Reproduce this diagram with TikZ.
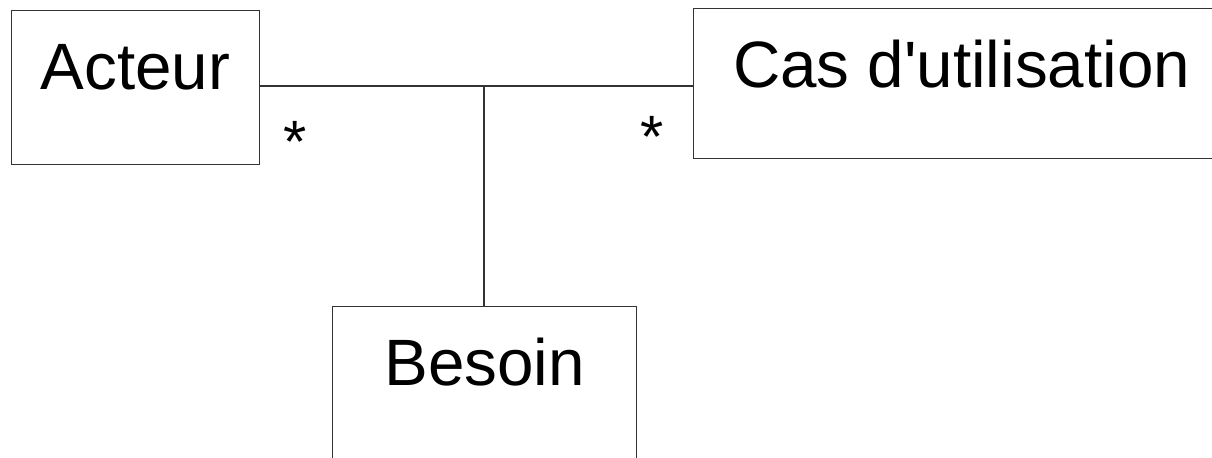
\documentclass[tikz,border=0pt]{standalone}
\usepackage{fontspec}
\setmainfont{Liberation Sans}
\usetikzlibrary{calc,positioning}
\tikzset{every node/.style={align=center},
  classe/.style={rectangle,draw=black!80,line width=0.6pt,inner xsep=0pt,inner ysep=0pt,
    text height=1.58cm,font=\fontsize{37.3}{44}\selectfont},
  mult/.style={font=\fontsize{34}{40}\selectfont,inner sep=0pt,anchor=base}}

\begin{document}
\begin{tikzpicture}[>=stealth]
\useasboundingbox (0,0) rectangle (24.24,-9.16);
\node[classe,anchor=north west,minimum width=4.96cm,text depth=1.5cm] (Act) at (0.22,-0.2) {Acteur};
\node[classe,anchor=north west,minimum width=10.72cm,text depth=1.42cm] (Cas) at (13.86,-0.16) {Cas d\textquotesingle utilisation};
\node[classe,anchor=north west,minimum width=6.08cm,text depth=1.62cm] (Bes) at (6.64,-6.12) {Besoin};

\coordinate (J) at (9.68,-1.72);
\draw[black!80,line width=0.6pt] (Act.east |- J) -- (J) -- (Cas.west |- J);
\draw[black!80,line width=0.6pt] (J) -- (J |- Bes.north);

\node[mult] (mA) at (5.9,-3.26) {*};
\node[mult] (mC) at (13.04,-3.16) {*};
\end{tikzpicture}
\end{document}
